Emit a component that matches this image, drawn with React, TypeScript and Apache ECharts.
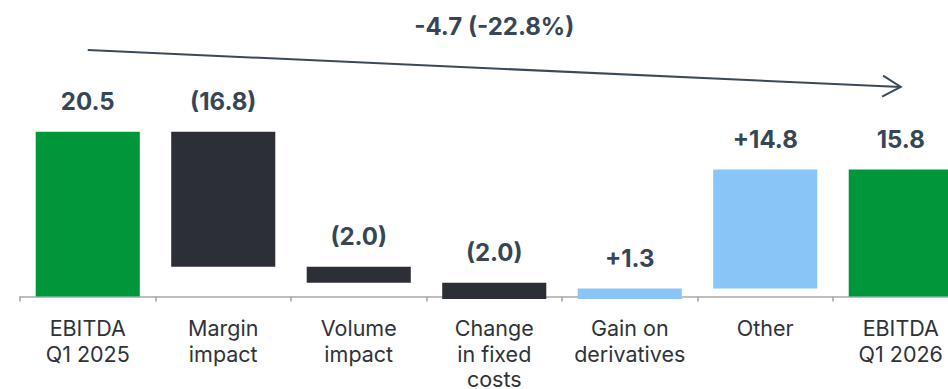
import React, { useEffect, useRef } from "react";
import * as echarts from "echarts";

// EBITDA bridge, Q1 2025 -> Q1 2026
const categories = [
  "EBITDA\nQ1 2025",
  "Margin\nimpact",
  "Volume\nimpact",
  "Change\nin fixed\ncosts",
  "Gain on\nderivatives",
  "Other",
  "EBITDA\nQ1 2026",
];
const kinds = ["total", "delta", "delta", "delta", "delta", "delta", "total"];
const values = [20.5, -16.8, -2.0, -2.0, 1.3, 14.8, 15.8];
const changeLabel = "-4.7 (-22.8%)";

const GREEN = "#00973a";
const DARK = "#2c2f36";
const LIGHT = "#89c5f7";
const LABEL = "#364656";
const AXIS_TEXT = "#2f3339";
const AXIS_LINE = "#a8a8a8";
const FONT = "Inter, 'Noto Sans', sans-serif";

function formatValue(kind: string, v: number): string {
  if (kind === "total") return v.toFixed(1);
  if (v < 0) return `(${Math.abs(v).toFixed(1)})`;
  return `+${v.toFixed(1)}`;
}

function colorFor(kind: string, v: number): string {
  if (kind === "total") return GREEN;
  return v < 0 ? DARK : LIGHT;
}

// floating ranges of the bridge: [index, low, high, value]
function buildRanges() {
  let running = 0;
  return values.map((v, i) => {
    let lo: number;
    let hi: number;
    if (kinds[i] === "total") {
      lo = 0;
      hi = v;
      running = v;
    } else {
      lo = running;
      hi = running + v;
      running = hi;
    }
    return [i, Math.min(lo, hi), Math.max(lo, hi), v];
  });
}

export default function App() {
  const ref = useRef<HTMLDivElement>(null);

  useEffect(() => {
    if (!ref.current) return;
    const chart = echarts.init(ref.current, undefined, { renderer: "svg" });
    const data = buildRanges();

    chart.setOption({
      animation: false,
      textStyle: { fontFamily: FONT },
      grid: {
        left: 20,
        top: -25.1,
        width: 948.5,
        height: 321.6,
        containLabel: false,
        outerBoundsMode: "none",
      },
      xAxis: {
        type: "category",
        data: categories,
        axisLine: { onZero: false, lineStyle: { color: AXIS_LINE, width: 1.6 } },
        axisTick: { show: true, length: 5, lineStyle: { color: AXIS_LINE, width: 1.6 } },
        axisLabel: {
          interval: 0,
          margin: 18.7,
          color: AXIS_TEXT,
          fontSize: 21.5,
          lineHeight: 25.7,
          fontFamily: FONT,
        },
        splitLine: { show: false },
      },
      yAxis: {
        type: "value",
        min: 0,
        max: 40,
        show: false,
        splitLine: { show: false },
      },
      series: [
        {
          type: "custom",
          clip: false,
          z: 1,
          data,
          encode: { x: 0, y: [1, 2] },
          renderItem: (params: any, api: any) => {
            const idx = api.value(0);
            const lo = api.value(1);
            const hi = api.value(2);
            const v = api.value(3);
            const pHi = api.coord([idx, hi]);
            const pLo = api.coord([idx, lo]);
            const w = api.size([1, 0])[0] * 0.768;
            const top = Math.min(pHi[1], pLo[1]);
            const h = Math.abs(pLo[1] - pHi[1]);
            const kind = kinds[idx];
            return {
              type: "group",
              children: [
                {
                  type: "rect",
                  shape: { x: pHi[0] - w / 2, y: top, width: w, height: h },
                  style: { fill: colorFor(kind, v) },
                },
                {
                  type: "text",
                  x: pHi[0],
                  y: top - 30,
                  style: {
                    text: formatValue(kind, v),
                    fill: LABEL,
                    fontSize: 24,
                    fontWeight: "bold",
                    fontFamily: FONT,
                    align: "center",
                    verticalAlign: "middle",
                  },
                },
              ],
            };
          },
        },
      ],
    });

    // overall change arrow from the first to the last total
    const first = chart.convertToPixel({ gridIndex: 0 }, [0, 0]) as number[];
    const last = chart.convertToPixel({ gridIndex: 0 }, [categories.length - 1, 0]) as number[];
    const x0 = first[0];
    const x1 = last[0];
    const y0 = 50;
    const y1 = 87;
    const theta = Math.atan2(y1 - y0, x1 - x0);
    const L = 21;
    const a = Math.PI / 6;
    const armA = [x1 - L * Math.cos(theta + a), y1 - L * Math.sin(theta + a)];
    const armB = [x1 - L * Math.cos(theta - a), y1 - L * Math.sin(theta - a)];

    chart.setOption({
      graphic: [
        {
          type: "line",
          shape: { x1: x0, y1: y0, x2: x1, y2: y1 },
          style: { stroke: "#3b4a58", lineWidth: 2 },
        },
        {
          type: "polyline",
          shape: { points: [armA, [x1, y1], armB] },
          style: { stroke: "#3b4a58", lineWidth: 2, fill: "none" },
        },
        {
          type: "text",
          x: (x0 + x1) / 2,
          y: 26,
          style: {
            text: changeLabel,
            fill: LABEL,
            fontSize: 24,
            fontWeight: "bold",
            fontFamily: FONT,
            align: "center",
            verticalAlign: "middle",
          },
        },
      ],
    });

    return () => chart.dispose();
  }, []);

  return (
    <div
      ref={ref}
      style={{ position: "absolute", left: 0, top: 0, width: 948, height: 389 }}
    />
  );
}
